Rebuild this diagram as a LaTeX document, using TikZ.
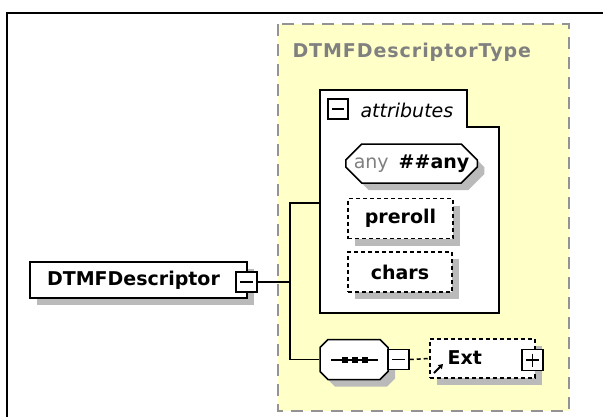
\documentclass[tikz,border=0pt]{standalone}
\usepackage{fontspec}
\setmainfont{DejaVu Sans}
\usetikzlibrary{shapes.misc,shadows,arrows.meta}
\definecolor{xsdyellow}{HTML}{FFFFC8}
\definecolor{xsdgray}{HTML}{808080}

\begin{document}
\begin{tikzpicture}[x=1pt,y=-1pt,
  font=\fontsize{19}{21}\selectfont,
  elem/.style={draw,fill=white,line width=1.5pt,inner sep=0pt,font=\fontsize{19}{21}\selectfont\bfseries,
    drop shadow={shadow xshift=7pt,shadow yshift=-7pt,fill=black!27,opacity=1}},
  opt/.style={elem,dash pattern=on 4pt off 3pt},
  oct/.style={elem,chamfered rectangle,chamfered rectangle xsep=8pt,chamfered rectangle ysep=8pt},
  tog/.style={draw,fill=white,line width=1.5pt,minimum width=21pt,minimum height=20pt,inner sep=0pt,
    path picture={\draw[line width=1.5pt] ([xshift=4pt]path picture bounding box.west) -- ([xshift=-4pt]path picture bounding box.east);}},
  togplus/.style={draw,fill=white,line width=1.5pt,minimum width=21pt,minimum height=21pt,inner sep=0pt,
    path picture={\draw[line width=1.5pt] ([xshift=4pt]path picture bounding box.west) -- ([xshift=-4pt]path picture bounding box.east)
      ([yshift=-4pt]path picture bounding box.north) -- ([yshift=4pt]path picture bounding box.south);}},
  link/.style={line width=1.5pt}
]
\useasboundingbox (0,0) rectangle (603,416);
\draw[line width=2pt] (7,430) -- (7,13) -- (615,13);

% complex type
\draw[xsdgray!85,fill=xsdyellow,line width=1.6pt,dash pattern=on 12pt off 8pt] (278,24) rectangle (569,411);
\node[anchor=west,text=xsdgray,font=\fontsize{19}{21}\selectfont\bfseries\addfontfeature{LetterSpace=5}] (ttl) at (289,52) {DTMFDescriptorType};

% attribute group
\draw[line width=1.8pt,fill=white] (320,90) -- (467,90) -- (467,127) -- (499,127) -- (499,313) -- (320,313) -- cycle;
\coordinate (attrL) at (320,203);
\node[tog,minimum width=20pt] (amin) at (338,109) {};
\node[anchor=west,font=\fontsize{19}{21}\selectfont\itshape] (atxt) at (357,110) {attributes};
\node[oct,minimum width=127pt,minimum height=39pt] (any) at (411.5,163.5)
  {{\mdseries\color{xsdgray}any}\hspace{10pt}\#\#any};
\node[opt,minimum width=105pt,minimum height=40pt] (pre) at (400.5,218.5) {preroll};
\node[opt,minimum width=104pt,minimum height=40pt] (chr) at (400,272) {chars};

% element
\node[elem,minimum width=217pt,minimum height=36pt] (desc) at (138.5,280) {\hspace*{-10pt}DTMFDescriptor};
\node[tog] (dmin) at (246.5,282) {};

% sequence
\node[oct,minimum width=68pt,minimum height=40pt] (seq) at (354,359.5) {\rule{0pt}{24pt}\hspace{40pt}};
\coordinate (sa) at (331,360);
\coordinate (sb) at (378,360);
\draw[link] (sa) -- (sb);
\foreach \d in {345,355,365}
  \fill (\d-3,357) rectangle (\d+3,363);
\node[tog] (smin) at (398.5,359.5) {};
\node[opt,minimum width=105pt,minimum height=39pt] (ext) at (482.5,358.5) {};
\node[anchor=west,font=\fontsize{19}{21}\selectfont\bfseries] (etxt) at (444,358) {Ext};
\node[togplus] (eplus) at (532.5,360) {};
\coordinate (ra) at (434,373);
\coordinate (rb) at (443,364);
\draw[line width=1.8pt,-{Triangle[length=4.5pt,width=5.5pt]}] (ra) -- (rb);

% connectors
\coordinate (j) at (290,282);
\draw[link] (dmin.east) -- (j);
\draw[link] (attrL) -| (j) |- (seq.west);
\draw[link,dash pattern=on 4pt off 3pt] (smin.east) -- (ext.west);
\end{tikzpicture}
\end{document}
